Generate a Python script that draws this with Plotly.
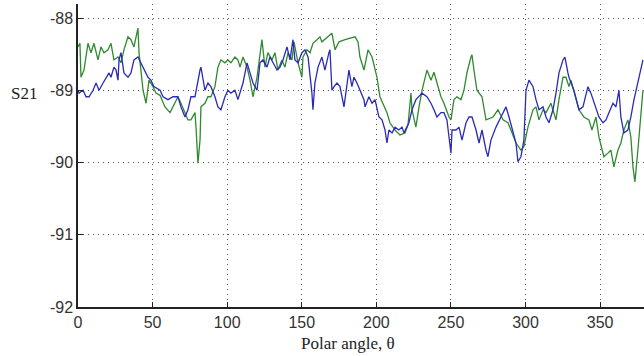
import plotly.graph_objects as go

# ---- data ----
angle_blue = [0, 0.7, 3.4, 5.4, 7.4, 10.1, 12.1, 14.1, 16.8, 18.8, 20.8, 22.1, 24.1, 25.5, 26.8, 27.5,
              28.8, 30.8, 33.5, 35.5, 37.5, 40.2, 42.2, 44.2, 46.9, 48.9, 50.9, 55.0, 57.0, 60.3, 63.7,
              67.0, 69.0, 71.7, 73.7, 75.7, 78.4, 81.8, 82.4, 85.1, 87.1, 89.1, 91.8, 93.8, 95.8, 98.5,
              100.5, 102.5, 105.2, 107.2, 110.6, 113.3, 115.3, 117.3, 120.0, 122.0, 124.0, 126.7, 128.7,
              130.7, 133.4, 135.4, 137.4, 140.1, 142.1, 144.1, 145.4, 147.5, 150.1, 152.1, 154.2, 156.8,
              157.5, 158.8, 160.9, 163.5, 165.5, 168.2, 168.9, 170.2, 171.6, 173.6, 175.6, 178.3, 179.6,
              181.6, 183.6, 185.0, 187.0, 189.0, 191.7, 192.4, 195.0, 197.1, 199.1, 201.7, 203.8, 205.8,
              207.1, 208.4, 210.5, 212.5, 215.1, 217.2, 218.5, 221.8, 223.9, 226.5, 228.6, 230.6, 233.9,
              236.6, 238.6, 240.6, 243.3, 245.3, 247.3, 250.0, 250.7, 253.4, 255.4, 257.4, 260.1, 262.1,
              264.1, 266.8, 268.8, 270.8, 273.5, 274.8, 276.8, 280.2, 283.5, 286.9, 288.9, 291.6, 293.6,
              294.9, 296.9, 298.9, 300.3, 302.3, 305.0, 307.0, 309.0, 311.7, 313.7, 315.7, 318.4, 320.4,
              322.4, 325.1, 326.4, 328.4, 329.1, 332.4, 335.8, 338.5, 341.8, 343.8, 347.2, 349.2, 351.9,
              353.9, 355.9, 358.6, 360.6, 362.6, 363.9, 365.9, 368.6, 370.6, 372.7, 375.3, 377.3, 378.7]
s21_blue = [-89.00, -89.04, -89.00, -89.09, -89.09, -89.00, -88.90, -89.00, -88.90, -88.82, -88.76,
            -88.82, -88.68, -88.72, -88.86, -88.58, -88.48, -88.76, -88.82, -88.76, -88.58, -88.54,
            -88.62, -88.72, -88.82, -88.86, -88.95, -89.00, -89.09, -89.13, -89.09, -89.09, -89.23,
            -89.37, -89.27, -89.09, -89.09, -88.72, -88.68, -89.00, -88.90, -88.95, -89.09, -89.23,
            -89.27, -89.09, -89.00, -89.04, -89.00, -89.13, -88.90, -88.62, -88.76, -88.90, -89.00,
            -88.62, -88.58, -88.68, -88.54, -88.62, -88.72, -88.68, -88.58, -88.40, -88.58, -88.30,
            -88.58, -88.62, -88.48, -88.44, -88.54, -89.04, -89.27, -88.90, -88.68, -88.54, -88.72,
            -88.48, -88.44, -89.00, -88.95, -88.90, -88.95, -89.23, -89.00, -88.72, -88.95, -88.82,
            -88.90, -89.00, -89.13, -89.23, -89.09, -89.18, -89.13, -89.37, -89.41, -89.55, -89.73,
            -89.55, -89.59, -89.51, -89.55, -89.51, -89.59, -89.45, -89.27, -89.13, -89.09, -89.04,
            -89.09, -89.18, -89.27, -89.37, -89.31, -89.31, -89.41, -89.87, -89.55, -89.55, -89.51,
            -89.69, -89.45, -89.37, -89.37, -89.55, -89.73, -89.55, -89.83, -89.92, -89.69, -89.51,
            -89.37, -89.23, -89.37, -89.59, -89.73, -89.99, -89.92, -89.69, -89.00, -88.86, -88.95,
            -89.13, -89.27, -89.23, -89.37, -89.45, -89.27, -89.04, -88.76, -88.58, -88.54, -88.76,
            -88.82, -89.00, -89.27, -89.23, -88.95, -89.04, -89.23, -89.37, -89.45, -89.41, -89.31,
            -89.18, -89.23, -89.00, -89.37, -89.59, -89.55, -89.37, -89.13, -88.90, -88.68, -88.58]

angle_green = [0, 1.3, 2.0, 4.0, 6.7, 8.7, 10.7, 13.4, 15.4, 17.4, 20.1, 22.1, 24.1, 26.8, 28.8, 30.8,
               33.5, 35.5, 37.5, 40.2, 40.9, 43.6, 45.6, 47.6, 50.3, 52.3, 55.0, 58.3, 61.7, 65.0, 67.0,
               69.0, 71.7, 73.7, 75.7, 78.4, 79.1, 80.4, 81.8, 82.4, 85.1, 87.1, 89.1, 91.8, 93.8, 95.8,
               98.5, 100.5, 102.5, 105.2, 107.2, 108.6, 110.6, 113.3, 115.3, 117.3, 120.0, 122.0, 123.3,
               125.3, 127.3, 130.0, 132.0, 134.0, 136.7, 138.7, 140.8, 143.4, 144.8, 147.5, 150.1, 150.8,
               153.5, 155.5, 157.5, 160.2, 162.2, 163.5, 170.2, 172.3, 174.9, 179.0, 185.7, 187.7, 189.0,
               191.7, 194.4, 197.1, 200.4, 202.4, 205.1, 207.1, 209.1, 212.5, 215.8, 219.2, 221.2, 223.2,
               223.9, 226.5, 228.6, 230.6, 233.9, 236.6, 238.6, 240.6, 243.3, 245.3, 248.7, 250.0, 252.0,
               254.0, 256.7, 258.7, 260.7, 263.4, 264.1, 265.4, 267.4, 270.8, 273.5, 278.2, 281.5, 284.9,
               288.2, 290.2, 293.6, 296.9, 298.9, 301.6, 305.0, 307.0, 309.0, 311.7, 313.7, 317.0, 320.4,
               322.4, 325.1, 327.1, 329.1, 330.4, 333.8, 335.8, 339.1, 342.5, 344.5, 347.2, 349.2, 351.2,
               352.5, 355.2, 357.2, 359.2, 361.9, 363.9, 365.9, 368.6, 370.6, 372.0, 373.3, 375.3, 377.3,
               378.7]
s21_green = [-88.40, -88.35, -88.82, -88.72, -88.35, -88.48, -88.35, -88.58, -88.40, -88.48, -88.44,
             -88.35, -88.58, -88.54, -88.62, -88.44, -88.26, -88.30, -88.40, -88.14, -88.48, -89.00,
             -89.18, -88.86, -88.95, -89.04, -89.07, -89.23, -89.31, -89.18, -89.09, -89.18, -89.31,
             -89.41, -89.41, -89.31, -89.51, -90.01, -89.69, -89.23, -89.18, -89.09, -89.09, -88.95,
             -88.68, -88.58, -88.62, -88.58, -88.62, -88.54, -88.58, -88.68, -88.54, -88.68, -88.86,
             -89.09, -88.82, -88.54, -88.30, -88.68, -88.48, -88.58, -88.48, -88.72, -88.58, -88.68,
             -88.48, -88.58, -88.33, -88.62, -88.82, -88.54, -88.44, -88.48, -88.35, -88.30, -88.26,
             -88.33, -88.21, -88.44, -88.33, -88.30, -88.26, -88.33, -88.54, -88.72, -88.44, -88.54,
             -88.82, -89.09, -89.23, -89.31, -89.45, -89.55, -89.62, -89.59, -89.48, -89.04, -89.27,
             -89.51, -89.23, -89.00, -88.72, -88.86, -88.75, -88.90, -89.09, -89.18, -89.37, -89.41,
             -89.13, -89.09, -89.13, -89.00, -88.76, -88.54, -88.51, -88.72, -89.00, -89.09, -89.41,
             -89.37, -89.27, -89.41, -89.45, -89.55, -89.73, -89.83, -89.78, -89.51, -89.27, -89.23,
             -89.41, -89.27, -89.31, -89.18, -89.41, -89.13, -88.82, -88.82, -88.95, -88.86, -89.13,
             -89.27, -89.37, -89.41, -89.55, -89.37, -89.65, -89.83, -89.92, -89.87, -89.83, -90.06,
             -89.83, -89.73, -89.55, -89.41, -89.65, -90.06, -90.27, -89.83, -89.27, -89.00]

x_ticks = [0, 50, 100, 150, 200, 250, 300, 350]
y_ticks = [-92, -91, -90, -89, -88]

fig = go.Figure()
fig.add_trace(go.Scatter(x=angle_green, y=s21_green, mode="lines",
                         line=dict(color="#2f8a2f", width=1.3), showlegend=False))
fig.add_trace(go.Scatter(x=angle_blue, y=s21_blue, mode="lines",
                         line=dict(color="#2a2ab8", width=1.3), showlegend=False))

axis_common = dict(
    showgrid=True, gridcolor="#555555", gridwidth=1, griddash="1px,4px",
    zeroline=False, showline=True, linecolor="#222222", linewidth=1.5,
    ticks="inside", ticklen=5, tickcolor="#222222",
    tickfont=dict(family="Liberation Sans, Arial", size=16, color="#333333"),
)

fig.update_xaxes(range=[0, 379.4], tickvals=x_ticks, **axis_common)
fig.update_yaxes(range=[-92, -87.806], tickvals=y_ticks,
                 ticktext=[str(v) for v in y_ticks], **axis_common)

fig.add_annotation(text="S21", xref="paper", yref="paper", x=-0.095, y=0.706,
                   showarrow=False, xanchor="center", yanchor="middle",
                   font=dict(family="Liberation Serif, Times New Roman", size=17, color="#222222"))
fig.add_annotation(text="Polar angle, θ", xref="paper", yref="paper", x=0.477, y=-0.119,
                   showarrow=False, xanchor="center", yanchor="middle",
                   font=dict(family="Liberation Serif, Times New Roman", size=17, color="#222222"))

fig.update_layout(
    width=644, height=356,
    margin=dict(l=78, r=0, t=4, b=49),
    paper_bgcolor="white", plot_bgcolor="white",
)

fig.write_html("out.html", config={"displayModeBar": False},
               post_script="document.body.style.margin='0px';")
